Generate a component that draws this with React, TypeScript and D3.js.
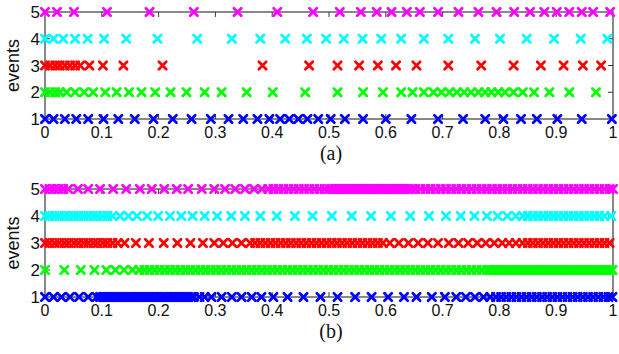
import React from 'react';
import * as d3 from 'd3';

const eventLevels = [1, 2, 3, 4, 5];
const xTickValues = [0, 0.1, 0.2, 0.3, 0.4, 0.5, 0.6, 0.7, 0.8, 0.9, 1];
const xTickLabels = ['0', '0.1', '0.2', '0.3', '0.4', '0.5', '0.6', '0.7', '0.8', '0.9', '1'];
const seriesColors = ['#0000ff', '#00ff00', '#ff0000', '#00ffff', '#ff00ff'];
const captions = ['(a)', '(b)'];

// Panel (a)
const aBlue = [0, 0.015, 0.035, 0.055, 0.076, 0.103, 0.129, 0.158, 0.191, 0.225, 0.258, 0.292, 0.323, 0.349, 0.374, 0.395, 0.414, 0.430, 0.446, 0.462, 0.481, 0.503, 0.528, 0.560, 0.600, 0.645, 0.692, 0.736, 0.775, 0.807, 0.838, 0.866, 0.902, 0.945, 0.998];
const aGreen = [0, 0.009, 0.018, 0.026, 0.038, 0.053, 0.069, 0.085, 0.106, 0.126, 0.148, 0.170, 0.194, 0.221, 0.249, 0.281, 0.311, 0.355, 0.401, 0.458, 0.515, 0.560, 0.595, 0.627, 0.647, 0.667, 0.684, 0.698, 0.712, 0.725, 0.738, 0.750, 0.763, 0.775, 0.786, 0.798, 0.810, 0.825, 0.841, 0.861, 0.888, 0.923, 0.970];
const aRed = [0, 0.009, 0.018, 0.026, 0.035, 0.044, 0.053, 0.062, 0.078, 0.102, 0.138, 0.207, 0.383, 0.465, 0.515, 0.553, 0.586, 0.618, 0.654, 0.710, 0.768, 0.825, 0.873, 0.913, 0.947, 0.979];
const aCyan = [0, 0.015, 0.032, 0.053, 0.075, 0.104, 0.143, 0.198, 0.268, 0.329, 0.379, 0.423, 0.461, 0.495, 0.526, 0.559, 0.592, 0.627, 0.667, 0.710, 0.757, 0.801, 0.848, 0.896, 0.943, 0.990];
const aMagenta = [0, 0.021, 0.051, 0.109, 0.184, 0.262, 0.339, 0.409, 0.472, 0.519, 0.556, 0.584, 0.610, 0.637, 0.660, 0.692, 0.728, 0.763, 0.795, 0.826, 0.854, 0.879, 0.901, 0.923, 0.945, 0.965, 0.995];

// Panel (b)
const bBlue = [0, 0.015, 0.029, 0.044, 0.060, 0.076, 0.091, 0.097, 0.102, 0.107, 0.112, 0.117, 0.122, 0.127, 0.132, 0.137, 0.142, 0.147, 0.152, 0.157, 0.162, 0.167, 0.172, 0.177, 0.182, 0.187, 0.192, 0.197, 0.202, 0.207, 0.212, 0.217, 0.222, 0.227, 0.232, 0.237, 0.242, 0.247, 0.252, 0.257, 0.262, 0.272, 0.281, 0.293, 0.311, 0.329, 0.346, 0.364, 0.381, 0.402, 0.427, 0.455, 0.485, 0.515, 0.546, 0.575, 0.604, 0.632, 0.654, 0.681, 0.704, 0.724, 0.741, 0.757, 0.772, 0.784, 0.794, 0.803, 0.812, 0.821, 0.830, 0.839, 0.848, 0.857, 0.866, 0.875, 0.884, 0.893, 0.902, 0.911, 0.920, 0.929, 0.938, 0.947, 0.956, 0.965, 0.974, 0.983, 0.992, 0.999];
const bGreen = [0, 0.034, 0.063, 0.087, 0.108, 0.124, 0.139, 0.154, 0.166, 0.175, 0.184, 0.193, 0.202, 0.211, 0.220, 0.229, 0.238, 0.247, 0.256, 0.265, 0.274, 0.283, 0.292, 0.301, 0.310, 0.319, 0.328, 0.337, 0.346, 0.355, 0.364, 0.373, 0.382, 0.391, 0.400, 0.409, 0.418, 0.427, 0.436, 0.445, 0.454, 0.463, 0.472, 0.481, 0.490, 0.499, 0.508, 0.517, 0.526, 0.535, 0.544, 0.553, 0.562, 0.571, 0.580, 0.589, 0.598, 0.607, 0.616, 0.625, 0.634, 0.643, 0.652, 0.661, 0.670, 0.679, 0.688, 0.697, 0.706, 0.715, 0.724, 0.733, 0.742, 0.751, 0.760, 0.769, 0.778, 0.784, 0.789, 0.794, 0.799, 0.804, 0.809, 0.814, 0.819, 0.824, 0.829, 0.834, 0.839, 0.844, 0.849, 0.854, 0.859, 0.864, 0.869, 0.874, 0.879, 0.884, 0.889, 0.894, 0.899, 0.904, 0.909, 0.914, 0.919, 0.924, 0.929, 0.934, 0.939, 0.944, 0.949, 0.954, 0.959, 0.964, 0.969, 0.974, 0.979, 0.984, 0.989, 0.994, 0.999];
const bRed = [0, 0.008, 0.017, 0.025, 0.034, 0.042, 0.051, 0.059, 0.068, 0.076, 0.085, 0.093, 0.102, 0.110, 0.119, 0.128, 0.140, 0.160, 0.183, 0.209, 0.233, 0.256, 0.278, 0.298, 0.314, 0.330, 0.346, 0.361, 0.370, 0.379, 0.388, 0.397, 0.406, 0.415, 0.424, 0.433, 0.442, 0.451, 0.460, 0.469, 0.478, 0.487, 0.496, 0.505, 0.514, 0.523, 0.532, 0.541, 0.550, 0.559, 0.568, 0.577, 0.586, 0.595, 0.607, 0.623, 0.640, 0.657, 0.674, 0.692, 0.711, 0.728, 0.745, 0.761, 0.776, 0.791, 0.805, 0.817, 0.829, 0.841, 0.850, 0.859, 0.868, 0.877, 0.886, 0.895, 0.904, 0.913, 0.922, 0.931, 0.940, 0.949, 0.958, 0.967, 0.976, 0.985, 0.994];
const bCyan = [0, 0.008, 0.017, 0.025, 0.034, 0.042, 0.051, 0.059, 0.068, 0.076, 0.085, 0.093, 0.102, 0.110, 0.119, 0.132, 0.147, 0.162, 0.180, 0.199, 0.220, 0.240, 0.260, 0.281, 0.303, 0.328, 0.352, 0.379, 0.408, 0.440, 0.471, 0.505, 0.540, 0.574, 0.609, 0.643, 0.676, 0.706, 0.732, 0.756, 0.778, 0.797, 0.814, 0.829, 0.841, 0.850, 0.859, 0.868, 0.877, 0.886, 0.895, 0.904, 0.913, 0.922, 0.931, 0.940, 0.949, 0.958, 0.967, 0.976, 0.985, 0.997];
const bMagenta = [0, 0.008, 0.016, 0.024, 0.032, 0.041, 0.058, 0.076, 0.097, 0.120, 0.143, 0.167, 0.188, 0.210, 0.232, 0.252, 0.276, 0.298, 0.317, 0.335, 0.352, 0.368, 0.382, 0.393, 0.402, 0.411, 0.420, 0.429, 0.438, 0.447, 0.456, 0.465, 0.474, 0.483, 0.492, 0.500, 0.505, 0.510, 0.515, 0.520, 0.525, 0.530, 0.535, 0.540, 0.545, 0.550, 0.555, 0.560, 0.565, 0.570, 0.575, 0.580, 0.585, 0.590, 0.595, 0.600, 0.605, 0.610, 0.615, 0.620, 0.625, 0.630, 0.635, 0.640, 0.645, 0.652, 0.661, 0.670, 0.679, 0.688, 0.697, 0.706, 0.715, 0.724, 0.733, 0.742, 0.751, 0.760, 0.769, 0.778, 0.787, 0.796, 0.805, 0.814, 0.823, 0.832, 0.841, 0.850, 0.859, 0.868, 0.877, 0.886, 0.895, 0.904, 0.913, 0.922, 0.931, 0.940, 0.949, 0.958, 0.967, 0.976, 0.985, 0.994, 1.0];

const panelSeries = [
  [aBlue, aGreen, aRed, aCyan, aMagenta],
  [bBlue, bGreen, bRed, bCyan, bMagenta],
];

const W = 619;
const H = 354;
const PLOT_LEFT = 45;
const PLOT_RIGHT = 613;
const panelBoxes = [
  { top: 12, bottom: 119 },
  { top: 189, bottom: 297 },
];
const AXIS_COLOR = '#3a3a3a';
const TICK_LEN = 5;
const FONT = 'Arial, "Liberation Sans", Helvetica, sans-serif';
const MARK = 'M-3.7,-3.7L3.7,3.7M-3.7,3.7L3.7,-3.7';

function Panel({ idx }: { idx: number }) {
  const box = panelBoxes[idx];
  const x = d3.scaleLinear().domain([0, 1]).range([PLOT_LEFT, PLOT_RIGHT]);
  const y = d3.scaleLinear().domain([1, 5]).range([box.bottom, box.top]);
  const series = panelSeries[idx];
  const midY = (box.top + box.bottom) / 2;
  return (
    <g>
      <rect x={x(0)} y={y(5)} width={x(1) - x(0)} height={y(1) - y(5)} fill="none" stroke={AXIS_COLOR} strokeWidth={1.2} />
      {xTickValues.slice(1, -1).map((t) => (
        <g key={'xt' + t}>
          <line x1={x(t)} x2={x(t)} y1={y(1)} y2={y(1) - TICK_LEN} stroke={AXIS_COLOR} strokeWidth={1} />
          <line x1={x(t)} x2={x(t)} y1={y(5)} y2={y(5) + TICK_LEN} stroke={AXIS_COLOR} strokeWidth={1} />
        </g>
      ))}
      {eventLevels.slice(1, -1).map((e) => (
        <g key={'yt' + e}>
          <line x1={x(0)} x2={x(0) + TICK_LEN} y1={y(e)} y2={y(e)} stroke={AXIS_COLOR} strokeWidth={1} />
          <line x1={x(1)} x2={x(1) - TICK_LEN} y1={y(e)} y2={y(e)} stroke={AXIS_COLOR} strokeWidth={1} />
        </g>
      ))}
      {xTickValues.map((t, i) => (
        <text key={'xl' + t} x={x(t)} y={y(1) + 19} textAnchor="middle" fontFamily={FONT} fontSize={16} fill="#111">
          {xTickLabels[i]}
        </text>
      ))}
      {eventLevels.map((e) => (
        <text key={'yl' + e} x={x(0) - 5} y={y(e)} dy="0.36em" textAnchor="end" fontFamily={FONT} fontSize={17} fill="#111">
          {e}
        </text>
      ))}
      <text transform={`translate(19,${midY}) rotate(-90)`} textAnchor="middle" fontFamily={FONT} fontSize={18} fill="#111">
        events
      </text>
      {series.map((vals, si) => (
        <g key={'s' + si}>
          {vals.map((v, j) => (
            <path key={j} d={MARK} transform={`translate(${x(v)},${y(eventLevels[si])})`} stroke={seriesColors[si]} strokeWidth={2.7} fill="none" strokeLinecap="round" />
          ))}
        </g>
      ))}
      <text x={(x(0) + x(1)) / 2 + 2} y={box.bottom + 41} textAnchor="middle" fontFamily='"Times New Roman", "Liberation Serif", serif' fontSize={20} fill="#111">
        {captions[idx]}
      </text>
    </g>
  );
}

export default function App() {
  return (
    <svg width={W} height={H} viewBox={`0 0 ${W} ${H}`} style={{ position: 'absolute', left: 0, top: 0, background: '#fff' }}>
      <rect x={0} y={0} width={W} height={H} fill="#fff" />
      <Panel idx={0} />
      <Panel idx={1} />
    </svg>
  );
}
